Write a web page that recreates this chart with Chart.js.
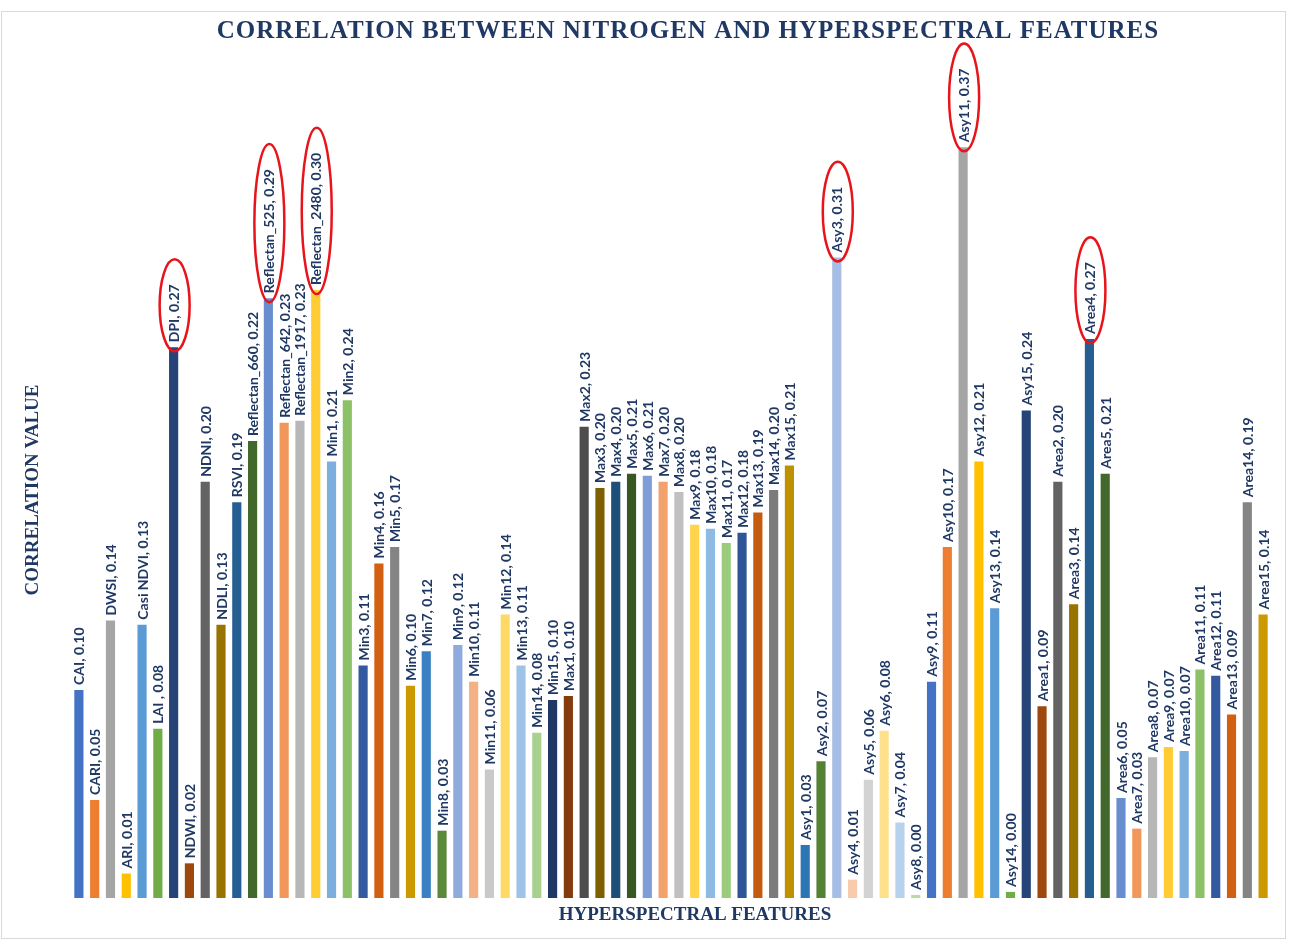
<!DOCTYPE html>
<html>
<head>
<meta charset="utf-8">
<script src="https://cdn.jsdelivr.net/npm/chart.js@4"></script>
<style>
  html, body { margin: 0; background: #fff; }
  #wrap { width: 1298px; height: 942px; }
</style>
</head>
<body>
<div id="wrap"><canvas id="chart"></canvas></div>
<script>
// feature names (note the original "LAI " keeps its trailing space)
const features = [
    'CAI', 'CARI', 'DWSI', 'ARI', 'Casi NDVI', 'LAI ', 'DPI', 'NDWI', 'NDNI', 'NDLI', 'RSVI',
    'Reflectan_660', 'Reflectan_525', 'Reflectan_642', 'Reflectan_1917', 'Reflectan_2480',
    'Min1', 'Min2', 'Min3', 'Min4', 'Min5', 'Min6', 'Min7', 'Min8', 'Min9', 'Min10', 'Min11', 'Min12', 'Min13', 'Min14', 'Min15',
    'Max1', 'Max2', 'Max3', 'Max4', 'Max5', 'Max6', 'Max7', 'Max8', 'Max9', 'Max10', 'Max11', 'Max12', 'Max13', 'Max14', 'Max15',
    'Asy1', 'Asy2', 'Asy3', 'Asy4', 'Asy5', 'Asy6', 'Asy7', 'Asy8', 'Asy9', 'Asy10', 'Asy11', 'Asy12', 'Asy13', 'Asy14', 'Asy15',
    'Area1', 'Area2', 'Area3', 'Area4', 'Area5', 'Area6', 'Area7', 'Area8', 'Area9', 'Area10', 'Area11', 'Area12', 'Area13', 'Area14', 'Area15'
];

const correlation = [
    0.102, 0.048, 0.136, 0.012, 0.134, 0.083, 0.270, 0.017, 0.204, 0.134, 0.194,
    0.224, 0.294, 0.233, 0.234, 0.298,
    0.214, 0.244, 0.114, 0.164, 0.172, 0.104, 0.121, 0.033, 0.124, 0.106, 0.063, 0.139, 0.114, 0.081, 0.097,
    0.099, 0.231, 0.201, 0.204, 0.208, 0.207, 0.204, 0.199, 0.183, 0.181, 0.174, 0.179, 0.189, 0.200, 0.212,
    0.026, 0.067, 0.314, 0.009, 0.058, 0.082, 0.037, 0.0015, 0.106, 0.172, 0.368, 0.214, 0.142, 0.003, 0.239,
    0.094, 0.204, 0.144, 0.274, 0.208, 0.049, 0.034, 0.069, 0.074, 0.072, 0.112, 0.109, 0.090, 0.194, 0.139
];

// the ones circled in red
const highlighted = ['DPI', 'Reflectan_525', 'Reflectan_2480', 'Asy3', 'Asy11', 'Area4'];

const chartTitle = 'CORRELATION BETWEEN NITROGEN AND HYPERSPECTRAL FEATURES';
const xTitle = 'HYPERSPECTRAL FEATURES';
const yTitle = 'CORRELATION VALUE';

// excel "vary colours by point" cycle
const palette = [
    '#4472C4', '#ED7D31', '#A5A5A5', '#FFC000', '#5B9BD5', '#70AD47',
    '#264478', '#9E480E', '#636363', '#997300', '#255E91', '#43682B',
    '#698ED0', '#F1975A', '#B7B7B7', '#FFCD33', '#7CAFDD', '#8CC168',
    '#335AA1', '#D26012', '#848484', '#CC9A00', '#3A80C2', '#5A8A39',
    '#8FAADC', '#F4B183', '#C9C9C9', '#FFD966', '#9DC3E6', '#A9D18E',
    '#1F3864', '#843C0C', '#4D4D4D', '#7F6000', '#1F4E79', '#385723',
    '#7F9DD8', '#F3A16D', '#C0C0C0', '#FFD34A', '#8DBBE3', '#9BCB7D',
    '#2F5597', '#C55A11', '#7B7B7B', '#BF9000', '#2E75B6', '#548235',
    '#A6BDE5', '#F8CBAD', '#D3D3D3', '#FFE08C', '#B6D2EC', '#B9DBA1'
];

const navy = '#1F3864';
const labelFont = 'bold 14px Lato';

const frame = {
    id: 'frame',
    beforeDraw(chart) {
        const ctx = chart.ctx;
        ctx.save();
        ctx.fillStyle = '#fff';
        ctx.fillRect(0, 0, chart.width, chart.height);
        ctx.strokeStyle = '#D9D9D9';
        ctx.lineWidth = 1;
        ctx.strokeRect(1.5, 11.5, 1284, 927);
        ctx.restore();
    },
    afterDraw(chart) {
        // titles sit a little right of the plot centre in the original
        const ctx = chart.ctx;
        const area = chart.chartArea;
        const mid = (area.left + area.right) / 2;
        ctx.save();
        ctx.fillStyle = navy;
        ctx.textAlign = 'center';
        ctx.textBaseline = 'middle';
        ctx.font = 'bold 25px "Liberation Serif"';
        ctx.letterSpacing = '1px';
        ctx.fillText(chartTitle, mid + 17, 32);
        ctx.font = 'bold 19px "Liberation Serif"';
        ctx.letterSpacing = '0px';
        ctx.fillText(xTitle, mid + 24, 915);
        ctx.restore();
    }
};

// rotated "name, value" labels above each bar + red ellipses
const barLabels = {
    id: 'barLabels',
    afterDatasetsDraw(chart) {
        const ctx = chart.ctx;
        const bars = chart.getDatasetMeta(0).data;
        ctx.save();
        ctx.font = labelFont;
        ctx.fillStyle = navy;
        ctx.textAlign = 'left';
        ctx.textBaseline = 'middle';
        bars.forEach((bar, i) => {
            const txt = features[i] + ', ' + correlation[i].toFixed(2);
            ctx.save();
            ctx.translate(bar.x + 1, bar.y - 5);
            ctx.rotate(-Math.PI / 2);
            ctx.fillText(txt, 0, 0);
            ctx.restore();

            if (highlighted.includes(features[i])) {
                const w = ctx.measureText(txt).width;
                const ry = w / 2 + 17;
                ctx.save();
                ctx.strokeStyle = '#E8141B';
                ctx.lineWidth = 2.5;
                ctx.beginPath();
                ctx.ellipse(bar.x + 1, bar.y - ry + 4, 15, ry, 0, 0, Math.PI * 2);
                ctx.stroke();
                ctx.restore();
            }
        });
        ctx.restore();
    }
};

const ctx = document.getElementById('chart');
const chart = new Chart(ctx, {
    type: 'bar',
    data: {
        labels: features,
        datasets: [{
            data: correlation,
            backgroundColor: correlation.map((v, i) => palette[i % palette.length]),
            barPercentage: 0.58,
            categoryPercentage: 1
        }]
    },
    options: {
        responsive: true,
        maintainAspectRatio: false,
        animation: false,
        layout: { padding: { left: 0, right: 27, top: 82, bottom: 44 } },
        plugins: {
            legend: { display: false },
            tooltip: { enabled: false },
            title: { display: false }
        },
        scales: {
            x: {
                grid: { display: false, drawTicks: false, tickLength: 0 },
                border: { display: false },
                ticks: { display: false }
            },
            y: {
                min: 0,
                max: 0.4,
                grid: { display: false, drawTicks: false, tickLength: 0 },
                border: { display: false },
                ticks: { display: false },
                title: {
                    display: true,
                    text: yTitle,
                    color: navy,
                    font: { family: 'Liberation Serif', weight: 'bold', size: 19, lineHeight: 1.2 },
                    padding: { top: 21.6, bottom: 26.6 }
                }
            }
        }
    },
    plugins: [frame, barLabels]
});
</script>
</body>
</html>
